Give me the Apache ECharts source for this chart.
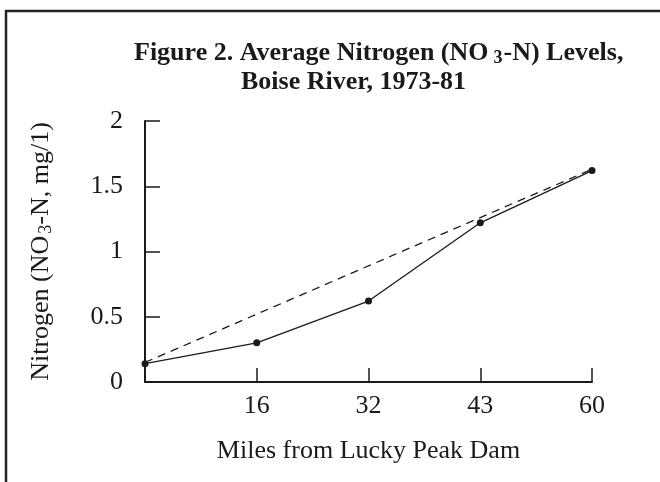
<!DOCTYPE html>
<html>
<head>
<meta charset="utf-8">
<title>Boise River Nitrogen</title>
<script src="https://cdn.jsdelivr.net/npm/echarts@6/dist/echarts.min.js"></script>
<style>
  html, body { margin: 0; padding: 0; background: #fff; }
  #main { width: 660px; height: 482px; }
</style>
</head>
<body>
<div id="main"></div>
<script>
// miles from dam (first station has no label)
var miles = ['', '16', '32', '43', '60'];
// average NO3-N, mg/1
var nitrogen = [0.14, 0.30, 0.62, 1.22, 1.62];
// dashed trend, only end points
var trend = [0.15, null, null, null, 1.63];
var yTicks = { min: 0, max: 2, step: 0.5 };

var serif = 'Liberation Serif';
var ink = '#1a1a1a';

var chart = echarts.init(document.getElementById('main'), null, { renderer: 'canvas' });

var option = {
    backgroundColor: '#fff',
    animation: false,
    title: [{
        text: '{b|Figure 2. Average Nitrogen (NO}{s|3}{b|-N) Levels,}',
        left: 129, top: 34,
        textStyle: {
            rich: {
                b: { fontFamily: serif, fontWeight: 'bold', fontSize: 26, color: ink, lineHeight: 26 },
                s: { fontFamily: serif, fontWeight: 'bold', fontSize: 18, color: ink, padding: [10, 1, 0, 5] }
            }
        }
    }, {
        text: 'Boise River, 1973-81',
        left: 236, top: 64,
        textStyle: { fontFamily: serif, fontWeight: 'bold', fontSize: 26, color: ink }
    }],
    grid: { left: 145, right: 68, top: 121, bottom: 100 },
    xAxis: {
        type: 'category',
        data: miles,
        boundaryGap: false,
        name: 'Miles from Lucky Peak Dam',
        nameLocation: 'middle',
        nameGap: 56,
        nameTextStyle: { fontFamily: serif, fontSize: 26, color: ink },
        axisLine: { lineStyle: { color: ink, width: 2 } },
        axisTick: { inside: true, length: 14, lineStyle: { color: ink, width: 1.5 } },
        axisLabel: { fontFamily: serif, fontSize: 26, color: ink, margin: 11 },
        splitLine: { show: false }
    },
    yAxis: {
        type: 'value',
        min: yTicks.min, max: yTicks.max, interval: yTicks.step,
        name: '{n|Nitrogen (NO}{s|3}{n|-N, mg/1)}',
        nameLocation: 'middle',
        nameGap: 90,
        nameTextStyle: {
            rich: {
                n: { fontFamily: serif, fontSize: 26, color: ink, lineHeight: 26 },
                s: { fontFamily: serif, fontSize: 18, color: ink, padding: [10, 0, 0, 2] }
            }
        },
        axisLine: { show: true, lineStyle: { color: ink, width: 2 } },
        axisTick: { show: true, inside: true, length: 15, lineStyle: { color: ink, width: 1.5 } },
        axisLabel: { fontFamily: serif, fontSize: 26, color: ink, margin: 22 },
        splitLine: { show: false }
    },
    series: [{
        name: 'trend',
        type: 'line',
        data: trend,
        connectNulls: true,
        showSymbol: false,
        symbol: 'none',
        lineStyle: { color: ink, width: 1.3, type: [8, 6] },
        z: 2
    }, {
        name: 'nitrogen',
        type: 'line',
        data: nitrogen,
        symbol: 'circle',
        symbolSize: 7,
        itemStyle: { color: ink },
        lineStyle: { color: ink, width: 1.3 },
        z: 3
    }],
    // frame on the top and left edges
    graphic: [{
        type: 'line',
        shape: { x1: 5, y1: 11, x2: 660, y2: 11 },
        style: { stroke: '#222', lineWidth: 2.5 }
    }, {
        type: 'line',
        shape: { x1: 6, y1: 10, x2: 6, y2: 482 },
        style: { stroke: '#222', lineWidth: 2.5 }
    }]
};

chart.setOption(option);
</script>
</body>
</html>
